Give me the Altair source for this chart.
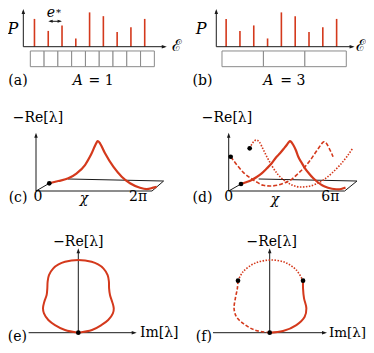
import altair as alt
import pandas as pd

# ---------------- values ----------------
# (a), (b): spectrum P(E)
ENERGIES = [0.3, 1.3, 2.3, 3.3, 4.3, 5.3, 6.3, 7.3, 8.3]
P_VALUES = [0.81, 0.46, 0.62, 0.24, 1.00, 0.89, 0.43, 0.57, 0.81]
CELL_EDGES_A1 = [0, 1, 2, 3, 4, 5, 6, 7, 8, 9]
CELL_EDGES_A3 = [0, 3, 6, 9]
E_STAR = [1.3, 2.3]

# (c): -Re[lambda] vs chi (chi in units of pi), A = 1
CHI_C = [0.229, 0.384, 0.557, 0.702, 0.845, 0.960, 1.047, 1.064, 1.103, 1.190,
         1.333, 1.478, 1.621, 1.793, 1.909, 2.022, 2.08]
NRE_C = [0.133, 0.172, 0.219, 0.305, 0.448, 0.650, 0.840, 0.862, 0.822, 0.650,
         0.419, 0.247, 0.133, 0.057, 0.034, 0.057, 0.07]

# (d): three branches, A = 3
CHI_D_SOLID = [0.636, 0.895, 1.190, 1.449, 1.707, 1.966, 2.225, 2.447, 2.654, 2.835,
               3.001, 3.104, 3.171, 3.249, 3.342, 3.482, 3.601, 3.766, 3.947, 4.154,
               4.377, 4.594, 4.811, 5.034, 5.241, 5.447, 5.670, 5.810, 5.939, 6.042]
NRE_D_SOLID = [0.121, 0.150, 0.190, 0.241, 0.305, 0.388, 0.478, 0.578, 0.650, 0.724,
               0.793, 0.840, 0.862, 0.840, 0.793, 0.698, 0.591, 0.491, 0.391, 0.302,
               0.219, 0.155, 0.103, 0.069, 0.047, 0.034, 0.029, 0.034, 0.047, 0.060]
CHI_D_DASHED = [0.103, 0.429, 0.755, 1.102, 1.449, 1.790, 2.137, 2.566, 2.913, 3.259,
                3.601, 3.947, 4.206, 4.465, 4.672, 4.827, 4.930, 5.059, 5.189, 5.318, 5.396]
NRE_D_DASHED = [0.591, 0.448, 0.322, 0.229, 0.155, 0.098, 0.086, 0.103, 0.143, 0.202,
                0.305, 0.419, 0.526, 0.650, 0.750, 0.822, 0.850, 0.819, 0.741, 0.655, 0.591]
CHI_D_DOTTED = [1.086, 1.257, 1.428, 1.583, 1.774, 1.981, 2.240, 2.550, 2.913, 3.275,
                3.689, 4.102, 4.516, 4.930, 5.344, 5.758, 6.120, 6.405]
NRE_D_DOTTED = [0.736, 0.836, 0.879, 0.845, 0.724, 0.586, 0.431, 0.284, 0.172, 0.103,
                0.069, 0.078, 0.121, 0.198, 0.310, 0.448, 0.595, 0.733]

# (e): closed loop in the complex plane
IM_E = [0.0, 0.38, 0.64, 0.83, 0.96, 0.985, 0.94, 0.88, 0.855, 0.85, 0.815, 0.695, 0.55, 0.37,
        0.0,
        -0.37, -0.55, -0.695, -0.815, -0.852, -0.861, -0.88, -0.944, -0.981, -0.954, -0.833,
        -0.648, -0.37, 0.0]
NRE_E = [0.0, 0.037, 0.106, 0.176, 0.269, 0.338, 0.431, 0.523, 0.616, 0.708, 0.801, 0.894,
         0.949, 0.986, 1.009,
         0.986, 0.949, 0.894, 0.801, 0.708, 0.616, 0.523, 0.431, 0.338, 0.269, 0.176,
         0.106, 0.037, 0.0]

# (f): same loop, three pieces
IM_F_DOTTED = [-0.88, -0.74, -0.42, 0.0, 0.42, 0.74, 0.926]
NRE_F_DOTTED = [0.722, 0.847, 0.963, 1.009, 0.977, 0.870, 0.722]
IM_F_SOLID = [0.926, 0.926, 0.954, 1.019, 0.972, 0.74, 0.37, 0.0]
NRE_F_SOLID = [0.722, 0.616, 0.477, 0.338, 0.222, 0.106, 0.023, 0.0]
IM_F_DASHED = [0.0, -0.417, -0.74, -0.926, -0.99, -0.954, -0.898, -0.88]
NRE_F_DASHED = [0.0, 0.037, 0.130, 0.222, 0.338, 0.477, 0.616, 0.722]

# ---------------- styling ----------------
FONT = "DejaVu Serif"
RED = "#d4391c"
AX = "#1a1a1a"
HEAD_UP = "M0,0L0.7,2L-0.7,2Z"
HEAD_RIGHT = "M0,0L-2,-0.7L-2,0.7Z"
HEAD_LEFT = "M0,0L2,-0.7L2,0.7Z"


class Panel:
    def __init__(self, xd, yd, w, h):
        self.X = alt.X("x:Q", scale=alt.Scale(domain=xd, nice=False, zero=False), axis=None)
        self.Y = alt.Y("y:Q", scale=alt.Scale(domain=yd, nice=False, zero=False), axis=None)
        self.w, self.h = w, h
        self.layers = []

    def rules(self, segs, color=AX, width=1.0, dash=None):
        df = pd.DataFrame(segs, columns=["x", "y", "x2", "y2"])
        kw = dict(color=color, strokeWidth=width, clip=True)
        if dash:
            kw["strokeDash"] = dash
        self.layers.append(alt.Chart(df).mark_rule(**kw).encode(
            x=self.X, y=self.Y, x2="x2:Q", y2="y2:Q"))

    def rects(self, boxes):
        df = pd.DataFrame(boxes, columns=["x", "y", "x2", "y2"])
        self.layers.append(alt.Chart(df).mark_rect(
            fill="white", stroke="#8a8a8a", strokeWidth=1, clip=True).encode(
            x=self.X, y=self.Y, x2="x2:Q", y2="y2:Q"))

    def line(self, xs, ys, width=2.0, dash=None, interp="monotone"):
        df = pd.DataFrame({"x": xs, "y": ys, "o": list(range(len(xs)))})
        kw = dict(color=RED, strokeWidth=width, interpolate=interp, clip=True)
        if dash:
            kw["strokeDash"] = dash
        self.layers.append(alt.Chart(df).mark_line(**kw).encode(
            x=self.X, y=self.Y, order="o:Q"))

    def points(self, xs, ys, shape="circle", size=20, color="black"):
        df = pd.DataFrame({"x": xs, "y": ys})
        self.layers.append(alt.Chart(df).mark_point(
            shape=shape, size=size, filled=True, color=color, opacity=1,
            strokeWidth=0, clip=True).encode(x=self.X, y=self.Y))

    def text(self, items, size=14, style="normal", baseline="middle"):
        df = pd.DataFrame(items, columns=["x", "y", "t"])
        self.layers.append(alt.Chart(df).mark_text(
            font=FONT, fontSize=size, fontStyle=style, align="center",
            baseline=baseline, color="black", clip=True).encode(
            x=self.X, y=self.Y, text="t:N"))

    def chart(self):
        return alt.layer(*self.layers).properties(width=self.w, height=self.h)


W_L, W_R = 179, 179
H1, H2, H3 = 97, 110, 130


def spectrum(xd, width, edges, yaxis_x, xaxis_tip, tag, tag_x, a_label, a_x, eq_x,
             p_x, calE_x):
    p = Panel(xd, [-1.700, 1.128], width, H1)
    p.rects([(edges[i], -0.125, edges[i + 1], -0.583) for i in range(len(edges) - 1)])
    p.rules([(e, 0, e, v) for e, v in zip(ENERGIES, P_VALUES)], color=RED, width=1.6)
    p.rules([(yaxis_x, 0, xaxis_tip - 0.15, 0), (yaxis_x, 0, yaxis_x, 1.04)])
    p.points([xaxis_tip], [0], shape=HEAD_RIGHT, size=25, color=AX)
    p.points([yaxis_x], [1.098], shape=HEAD_UP, size=25, color=AX)
    p.text([(p_x, 0.51, "P")], size=16, style="italic")
    p.text([(calE_x, 0.03, "ℰ")], size=16)
    p.text([(tag_x, -0.99, tag)])
    p.text([(a_x, -0.994, "A")], style="italic")
    p.text([(eq_x, -0.994, a_label)])
    return p


pa = spectrum([-1.620, 11.369], W_L, CELL_EDGES_A1, -0.508, 9.90, "(a)", -0.895,
              "= 1", 3.445, 5.128, -1.258, 10.62)
pa.rules([(E_STAR[0] + 0.12, 0.74, E_STAR[1] - 0.12, 0.74)])
pa.points([E_STAR[0]], [0.74], shape=HEAD_LEFT, size=20, color=AX)
pa.points([E_STAR[1]], [0.74], shape=HEAD_RIGHT, size=20, color=AX)
pa.text([(1.50, 0.88, "e")], size=14, style="italic", baseline="alphabetic")
pa.text([(2.044, 1.128, "*")], size=10, baseline="top")

pb = spectrum([-2.534, 10.427], W_R, CELL_EDGES_A3, -0.413, 9.60, "(b)", -1.41,
              "= 3", 3.345, 5.127, -1.506, 10.07)

YD_CD = [-0.4138, 1.4828]
pc = Panel([-0.4828, 2.6034], YD_CD, W_L, H2)
pc.rules([(0, 0, 2, 0), (2, 0, 2.2, 0.172), (0.55, 0.207, 2.2, 0.172),
          (0, 0, CHI_C[0], NRE_C[0]), (0, 0, 0, 0.95)])
pc.points([0], [1.005], shape=HEAD_UP, size=25, color=AX)
pc.line(CHI_C, NRE_C, width=2.2)
pc.points([CHI_C[0]], [NRE_C[0]], size=22)
pc.text([(0.034, 1.259, "−Re[λ]"), (-0.31, -0.121, "(c)"), (0.034, -0.103, "0"),
         (1.759, -0.103, "2π")])
pc.text([(0.828, -0.138, "χ")], style="italic")

pd_ = Panel([-2.157, 7.103], YD_CD, W_R, H2)
pd_.rules([(0, 0, 6, 0), (6, 0, 6.636, 0.172), (1.55, 0.207, 6.636, 0.172),
           (0, 0, CHI_D_SOLID[0], NRE_D_SOLID[0]), (0, 0, 0, 0.95)])
pd_.points([0], [1.005], shape=HEAD_UP, size=25, color=AX)
pd_.line(CHI_D_DOTTED, NRE_D_DOTTED, width=1.6, dash=[1.5, 1.5])
pd_.line(CHI_D_DASHED, NRE_D_DASHED, width=1.6, dash=[4, 2])
pd_.line(CHI_D_SOLID, NRE_D_SOLID, width=2.2)
pd_.points([CHI_D_SOLID[0], CHI_D_DASHED[0], CHI_D_DOTTED[0]],
           [NRE_D_SOLID[0], NRE_D_DASHED[0], NRE_D_DOTTED[0]], size=22)
pd_.text([(-0.088, 1.259, "−Re[λ]"), (-1.355, -0.121, "(d)"), (0, -0.103, "0"),
          (5.256, -0.103, "6π")])
pd_.text([(2.395, -0.147, "χ")], style="italic")

YD_EF = [-0.1708, 1.6347]
pe = Panel([-1.953, 3.019], YD_EF, W_L, H3)
pe.rules([(-1.381, 0, 1.55, 0), (0, 0, 0, 1.11)])
pe.points([1.622], [0], shape=HEAD_RIGHT, size=25, color=AX)
pe.points([0], [1.172], shape=HEAD_UP, size=25, color=AX)
pe.line(IM_E, NRE_E, width=2.0, interp="catmull-rom")
pe.points([0], [0], size=22)
pe.text([(0, 1.264, "−Re[λ]"), (2.247, -0.008, "Im[λ]"), (-1.690, -0.06, "(e)")])

pf = Panel([-2.297, 2.675], YD_EF, W_R, H3)
pf.rules([(-1.575, 0, 1.53, 0), (0, 0, 0, 1.11)])
pf.points([1.592], [0], shape=HEAD_RIGHT, size=25, color=AX)
pf.points([0], [1.172], shape=HEAD_UP, size=25, color=AX)
pf.line(IM_F_DOTTED, NRE_F_DOTTED, width=1.6, dash=[1.5, 1.5], interp="catmull-rom")
pf.line(IM_F_DASHED, NRE_F_DASHED, width=1.6, dash=[3.5, 2], interp="catmull-rom")
pf.line(IM_F_SOLID, NRE_F_SOLID, width=2.0, interp="catmull-rom")
pf.points([0, IM_F_DOTTED[0], IM_F_DOTTED[-1]], [0, NRE_F_DOTTED[0], NRE_F_DOTTED[-1]], size=22)
pf.text([(0.056, 1.264, "−Re[λ]"), (-1.828, -0.06, "(f)")])
pf.text([(2.161, -0.008, "Im[λ]")], size=13.5)

chart = alt.concat(
    pa.chart(), pb.chart(), pc.chart(), pd_.chart(), pe.chart(), pf.chart(),
    columns=2, spacing=0, bounds="flush"
).properties(padding=0, background="white").configure_view(stroke=None)

chart.save("out.html", embed_options={"renderer": "svg", "actions": False})
